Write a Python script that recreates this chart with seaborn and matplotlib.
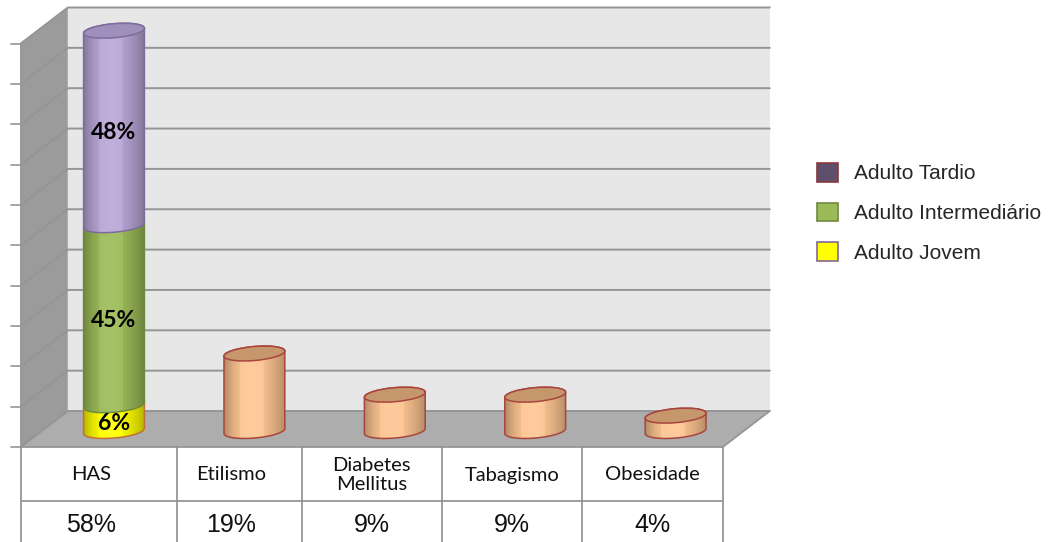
import numpy as np
import pandas as pd
import matplotlib
matplotlib.use("Agg")
import matplotlib.pyplot as plt
import matplotlib.transforms as mtrans
from matplotlib.patches import Ellipse, Polygon, Patch
import seaborn as sns

# ---------------- data ----------------
categories = ["HAS", "Etilismo", "Diabetes\nMellitus", "Tabagismo", "Obesidade"]
table_values = ["58%", "19%", "9%", "9%", "4%"]
has_groups = ["Adulto Jovem", "Adulto Intermediário", "Adulto Tardio"]
has_heights = [3.2, 22.3, 24.1]
has_labels = ["6%", "45%", "48%"]
other_categories = ["Etilismo", "Diabetes\nMellitus", "Tabagismo", "Obesidade"]
other_heights = [9.6, 4.5, 4.5, 1.9]
y_ticks = [0, 5, 10, 15, 20, 25, 30, 35, 40, 45, 50]
legend_labels = ["Adulto Tardio", "Adulto Intermediário", "Adulto Jovem"]

# ---------------- styles ----------------
ORANGE = "#FDC592"
ORANGE_TOP = "#C6966D"
ORANGE_EDGE = "#A8463E"
has_colors = ["#FFFF00", "#9CBB58", "#B8A6D6"]
has_edges = ["#C0703A", "#6E8A3A", "#7D6C9C"]
HAS_TOP = "#9F8FBC"
legend_face = ["#5F4F6B", "#9BBB59", "#FFFF00"]
legend_edge = ["#8B3A3A", "#71893F", "#7F6A9A"]

W, H, DPI = 1057, 542, 100
X0_PX = 114.0      # pixel x of first category centre (mid depth)
STEP_PX = 140.4    # pixel distance between categories
BASE_PX = 431.0    # pixel y (from top) of bar bases
UNIT_PX = 8.07     # pixels per value unit
BACK = np.array([24.0, 20.0])    # display offset to back wall
FRONT = np.array([-23.0, -16.0]) # display offset to front edge
BAR_W = 0.435
ELL_H = 14.0
ANG = 5.0

sns.set_style("white")
fig = plt.figure(figsize=(W / DPI, H / DPI), dpi=DPI)
ax = fig.add_axes([0, 0, 1, 1])
ax.set_axis_off()

# ---------------- bars via seaborn ----------------
df_other = pd.DataFrame({"category": other_categories, "value": other_heights})
n0 = len(ax.patches)
sns.barplot(data=df_other, x="category", y="value", order=categories, color=ORANGE,
            width=BAR_W, saturation=1, edgecolor="none", linewidth=0, ax=ax, zorder=3)
other_bars = [p for p in ax.patches[n0:] if p.get_height() > 0]

has_bars = []
bottom = 0.0
for grp, h, col in zip(has_groups, has_heights, has_colors):
    n0 = len(ax.patches)
    sns.barplot(x=["HAS"], y=[h], order=categories, color=col, width=BAR_W,
                saturation=1, edgecolor="none", linewidth=0, bottom=bottom, ax=ax, zorder=3)
    has_bars += [p for p in ax.patches[n0:] if p.get_height() > 0]
    bottom += h

ax.set_axis_off()
ax.set_xlim(-X0_PX / STEP_PX, (W - X0_PX) / STEP_PX)
ax.set_ylim(-(H - BASE_PX) / UNIT_PX, BASE_PX / UNIT_PX)

T = ax.transData
def disp(x, y, off=(0, 0)):
    return T.transform((x, y)) + np.asarray(off)

ident = mtrans.IdentityTransform()
x_lo, x_hi = -0.5, len(categories) - 0.5
y_top = y_ticks[-1]

# ---------------- walls ----------------
bw = np.array([disp(x_lo, 0, BACK), disp(x_hi, 0, BACK), disp(x_hi, y_top, BACK), disp(x_lo, y_top, BACK)])
ax.add_patch(Polygon(bw, closed=True, transform=ident, fc="#E7E7E7", ec="none", zorder=0))
lw_ = np.array([disp(x_lo, 0, FRONT), disp(x_lo, y_top, FRONT), disp(x_lo, y_top, BACK), disp(x_lo, 0, BACK)])
ax.add_patch(Polygon(lw_, closed=True, transform=ident, fc="#9B9B9B", ec="none", zorder=0))
fl = np.array([disp(x_lo, 0, FRONT), disp(x_hi, 0, FRONT), disp(x_hi, 0, BACK), disp(x_lo, 0, BACK)])
ax.add_patch(Polygon(fl, closed=True, transform=ident, fc="#ADADAD", ec="none", zorder=0))

GRID = "#959595"
for yv in y_ticks:
    pts = np.array([disp(x_lo, yv, FRONT), disp(x_lo, yv, BACK), disp(x_hi, yv, BACK)])
    ax.plot(pts[:, 0], pts[:, 1], color=GRID, lw=1.4, transform=ident, zorder=1)
    tk = np.array([disp(x_lo, yv, FRONT) + np.array([-10, 0]), disp(x_lo, yv, FRONT)])
    ax.plot(tk[:, 0], tk[:, 1], color=GRID, lw=1.2, transform=ident, zorder=1)
edges = [
    [disp(x_lo, 0, FRONT), disp(x_lo, y_top, FRONT)],
    [disp(x_lo, 0, FRONT), disp(x_hi, 0, FRONT), disp(x_hi, 0, BACK)],
]
for e in edges:
    e = np.array(e)
    ax.plot(e[:, 0], e[:, 1], color=GRID, lw=1.3, transform=ident, zorder=1)

# ---------------- cylinder decoration ----------------
def cyl_verts(w_px, h_px, e_h, ang):
    a, b = w_px / 2.0, e_h / 2.0
    c, s = np.cos(np.radians(ang)), np.sin(np.radians(ang))
    def ell(t, cy):
        x = a * np.cos(t); y = b * np.sin(t)
        return np.column_stack([x * c - y * s, x * s + y * c + cy])
    return np.vstack([ell(np.linspace(np.pi, 2 * np.pi, 80), 0),
                      ell(np.linspace(0, np.pi, 80), h_px)])

tt = np.linspace(0, 1, 128)
s = (tt - 0.45)
dark_a = 0.30 * np.where(s < 0, (np.abs(s) / 0.45) ** 2.2, (s / 0.55) ** 1.8)
hl = 0.10 * np.exp(-((tt - 0.45) / 0.22) ** 2)
grad = np.zeros((1, tt.size, 4))
rgbv = np.where(hl > dark_a, 1.0, 0.0)
grad[0, :, 0] = rgbv; grad[0, :, 1] = rgbv; grad[0, :, 2] = rgbv
grad[0, :, 3] = np.maximum(hl, dark_a)

def decorate(p, face, edge, top_face, z, top=True):
    x0, y0 = p.get_x(), p.get_y()
    w, h = p.get_width(), p.get_height()
    cx = x0 + w / 2
    w_px = (T.transform((x0 + w, 0)) - T.transform((x0, 0)))[0]
    h_px = h * UNIT_PX
    off = mtrans.ScaledTranslation(cx, y0, T)
    v = cyl_verts(w_px, h_px, ELL_H, ANG)
    body = Polygon(v, closed=True, transform=off, fc=face, ec="none", zorder=z)
    ax.add_patch(body)
    pad = (ELL_H + 6) / UNIT_PX
    im = ax.imshow(grad, extent=(x0, x0 + w, y0 - pad, y0 + h + pad), aspect="auto",
                   zorder=z + 0.01, interpolation="bilinear")
    im.set_clip_path(body)
    outline = Polygon(v, closed=True, transform=off, fc="none", ec=edge, lw=1.1, zorder=z + 0.02)
    ax.add_patch(outline)
    if top:
        te = Ellipse((0, 0), w_px, ELL_H, angle=ANG,
                     transform=mtrans.ScaledTranslation(cx, y0 + h, T),
                     fc=top_face, ec=edge, lw=1.1, zorder=z + 0.03)
        ax.add_patch(te)

for p in other_bars:
    decorate(p, ORANGE, ORANGE_EDGE, ORANGE_TOP, 4)

for i, p in enumerate(has_bars):
    decorate(p, has_colors[i], has_edges[i], HAS_TOP, 4 + i * 0.1, top=(i == len(has_bars) - 1))
    ax.annotate(has_labels[i], (p.get_x() + p.get_width() / 2, p.get_y() + p.get_height() / 2),
                xytext=(0, -3.6), textcoords="offset points", ha="center", va="center",
                fontsize=16.5, fontweight="bold", family="Lato", color="black", zorder=10)

ax.set_xlim(-X0_PX / STEP_PX, (W - X0_PX) / STEP_PX)
ax.set_ylim(-(H - BASE_PX) / UNIT_PX, BASE_PX / UNIT_PX)

# ---------------- legend ----------------
handles = [Patch(facecolor=f, edgecolor=e, linewidth=1.2, label=l)
           for f, e, l in zip(legend_face, legend_edge, legend_labels)]
ax.legend(handles=handles, loc="upper left", bbox_to_anchor=(817 / W, 1 - 163 / H),
          bbox_transform=fig.transFigure, frameon=False,
          prop={"family": "Liberation Sans", "size": 15},
          handlelength=1.0, handleheight=1.0, handletextpad=0.78,
          labelspacing=0.92, borderpad=0, borderaxespad=0)

# ---------------- data table ----------------
front_left = disp(x_lo, 0, FRONT)
front_right = disp(x_hi, 0, FRONT)
tw = front_right[0] - front_left[0]
th = front_left[1]
axt = fig.add_axes([front_left[0] / W, 0, tw / W, th / H])
axt.set_xlim(0, tw)
axt.set_ylim(th, 0)
axt.set_axis_off()
col_edges = [0, 156, 281, 421, 561, tw]
ROW1_H = 54
for xe in col_edges:
    axt.plot([xe, xe], [0, th], color="#8E8E8E", lw=1.2, clip_on=False)
axt.plot([0, tw], [ROW1_H, ROW1_H], color="#8E8E8E", lw=1.2)
ncat = len(categories)
for k, (cat, val) in enumerate(zip(categories, table_values)):
    xc = (k + 0.5) * tw / ncat
    axt.text(xc, 28, cat, ha="center", va="center", fontsize=14.5, family="Lato",
             color="#111111", linespacing=1.1)
    axt.text(xc, 78, val, ha="center", va="center", fontsize=18, family="Liberation Sans",
             color="#111111")

fig.savefig("out.png", dpi=DPI)
